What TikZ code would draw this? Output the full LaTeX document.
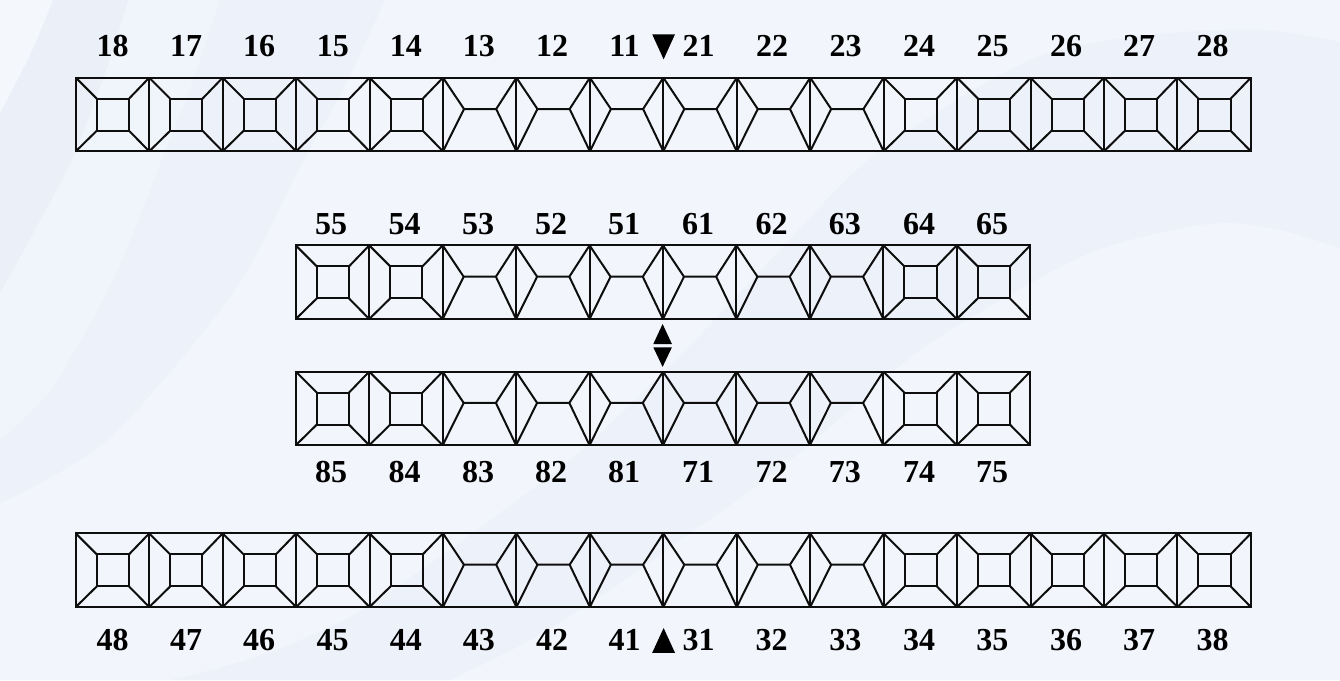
\documentclass[tikz,border=0pt]{standalone}
\usepackage{fontspec}
\setmainfont{Liberation Serif}
\definecolor{bgbase}{HTML}{F2F5FB}
\definecolor{bgband}{HTML}{EDF1FA}
\definecolor{bgcorner}{HTML}{F4F7FC}
\definecolor{bgdeep}{HTML}{EAEFF8}
\definecolor{bgsoft}{HTML}{F0F4FB}
\definecolor{ink}{HTML}{0E0E0E}
\tikzset{
  toothline/.style={draw=ink,line width=2pt,line join=miter},
  toothlabel/.style={font=\fontsize{32}{36}\selectfont\bfseries,text=black,inner sep=0pt,anchor=base},
  marker/.style={fill=black,draw=none},
  molar/.pic={
    \path[toothline] (0,0) rectangle (73.44,73.6);
    \path[toothline] (21,21) rectangle (53.2,53);
    \path[toothline] (0,0)--(21,21) (73.44,0)--(53.2,21) (0,73.6)--(21,53) (73.44,73.6)--(53.2,53);
  },
  incisorL/.pic={
    \path[toothline] (0,0) rectangle (73.44,73.6);
    \path[toothline] (0,0)--(21,31.3)--(0,73.6) (21,31.3)--(53.2,31.3) (73.44,0)--(53.2,31.3)--(73.44,73.6);
  },
}
\newcommand{\toothrow}[3]{%
  \foreach \k [count=\i from 0] in {#3} {
    \pgfmathsetmacro{\xx}{#1+\i*73.44}
    \pic at (\xx,#2) {\k};
  }%
}
\newcommand{\labelrow}[2]{%
  \foreach \t/\xx in {#2} {
    \node[toothlabel] (L\t) at (\xx,#1) {\t};
  }%
}
\begin{document}
\begin{tikzpicture}[x=1pt,y=-1pt]
\useasboundingbox (0,0) rectangle (1340,680);
\fill[bgbase] (0,0) rectangle (1340,680);
% soft background bands, top left
\fill[bgband] (0,0) -- (385,0) -- plot[smooth] coordinates {(385,0) (345,85) (300,167) (233,293) (107,440) (0,503)} -- cycle;
\fill[bgsoft] (0,0) -- (220,0) -- plot[smooth] coordinates {(220,0) (195,75) (163,157) (133,233) (103,300) (50,390) (0,440)} -- cycle;
\fill[bgdeep] (0,0) -- (128,0) -- plot[smooth] coordinates {(128,0) (107,67) (73,157) (33,233) (0,293)} -- cycle;
\fill[bgcorner] (0,0) -- (53,0) -- plot[smooth] coordinates {(53,0) (30,55) (0,113)} -- cycle;
% soft background band, across the middle
\fill[bgband] plot[smooth] coordinates {(170,680) (200,673) (268,653) (357,613) (470,535) (585,447) (700,335) (780,250) (877,153) (1030,60) (1150,35) (1263,30) (1340,42)}
  -- (1340,248) -- plot[smooth] coordinates {(1340,248) (1280,230) (1217,223) (1130,240) (1060,267) (920,350) (807,447) (733,503) (690,533) (610,590) (530,640) (450,680)} -- cycle;
% teeth
\toothrow{75.8}{77.7}{molar,molar,molar,molar,molar,incisorL,incisorL,incisorL,incisorL,incisorL,incisorL,molar,molar,molar,molar,molar}
\toothrow{295.8}{245.4}{molar,molar,incisorL,incisorL,incisorL,incisorL,incisorL,incisorL,molar,molar}
\toothrow{295.8}{371.6}{molar,molar,incisorL,incisorL,incisorL,incisorL,incisorL,incisorL,molar,molar}
\toothrow{75.8}{533.4}{molar,molar,molar,molar,molar,incisorL,incisorL,incisorL,incisorL,incisorL,incisorL,molar,molar,molar,molar,molar}
% labels
\labelrow{56}{18/112.5,17/186,16/259,15/332.8,14/405.8,13/478.8,12/552,11/624.5,21/698.5,22/772,23/845.5,24/919,25/992.5,26/1066,27/1139,28/1212.5}
\labelrow{234.5}{55/331,54/404.7,53/478,52/551,51/624,61/698,62/771.7,63/844.8,64/919,65/992}
\labelrow{482.5}{85/331,84/404.7,83/478,82/551,81/624,71/698,72/771.7,73/844.8,74/919,75/992}
\labelrow{650.2}{48/112.5,47/186,46/259,45/332.5,44/405.8,43/478.8,42/552,41/624.5,31/698.5,32/771.7,33/845.3,34/919,35/992.3,36/1066,37/1139,38/1212.5}
% midline markers
\fill[marker] (652.2,34.3)--(675,34.3)--(663.6,59.3)--cycle;
\fill[marker] (652.2,652.8)--(675,652.8)--(663.6,628)--cycle;
\fill[marker] (653.3,344)--(671.9,344)--(662.6,324)--cycle;
\fill[marker] (653.3,347.3)--(671.9,347.3)--(662.6,366.9)--cycle;
\end{tikzpicture}
\end{document}
